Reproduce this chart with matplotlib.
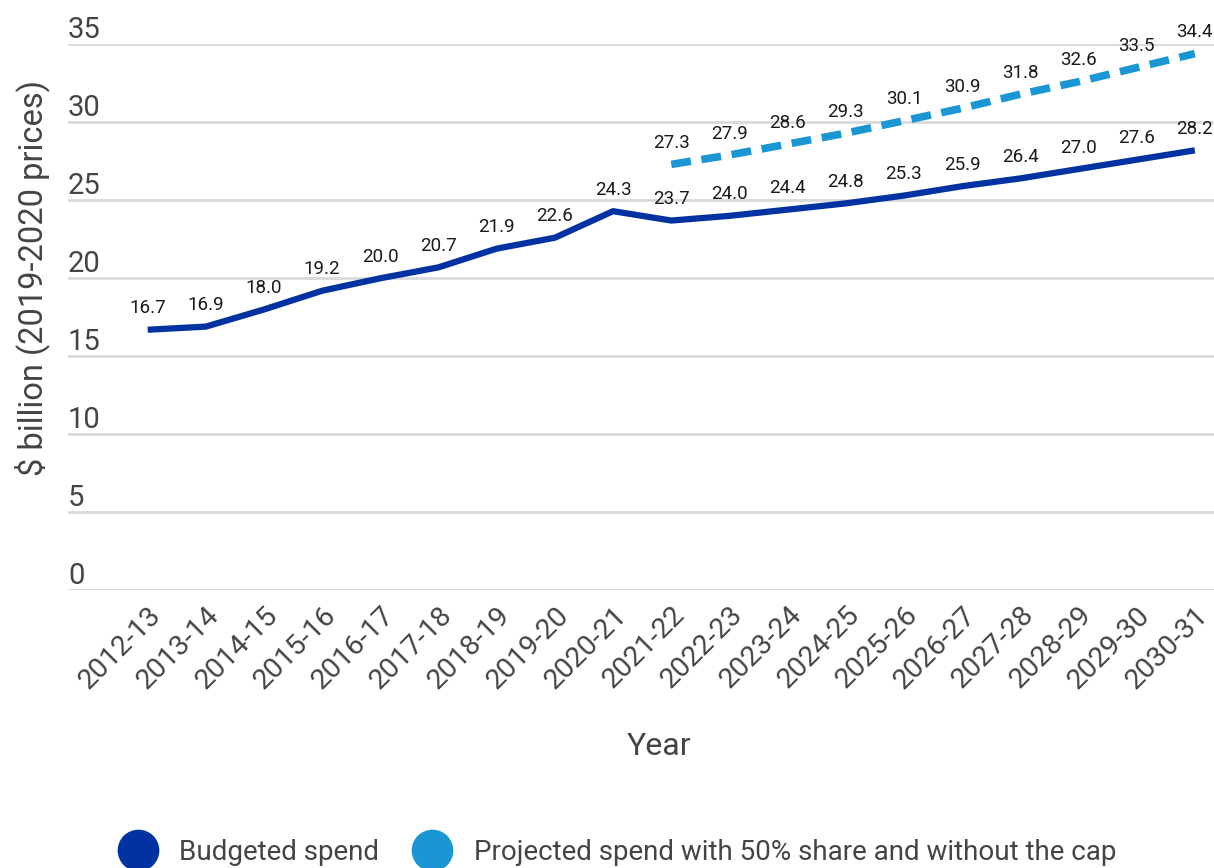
import numpy as np
import matplotlib.pyplot as plt
from matplotlib.lines import Line2D

plt.rcParams['font.family'] = ['Roboto', 'DejaVu Sans']

years = ['2012-13', '2013-14', '2014-15', '2015-16', '2016-17', '2017-18', '2018-19',
         '2019-20', '2020-21', '2021-22', '2022-23', '2023-24', '2024-25', '2025-26',
         '2026-27', '2027-28', '2028-29', '2029-30', '2030-31']
budgeted = [16.7, 16.9, 18.0, 19.2, 20.0, 20.7, 21.9, 22.6, 24.3, 23.7,
            24.0, 24.4, 24.8, 25.3, 25.9, 26.4, 27.0, 27.6, 28.2]
proj_years = years[9:]
projected = [27.3, 27.9, 28.6, 29.3, 30.1, 30.9, 31.8, 32.6, 33.5, 34.4]

c_budget = '#0033a1'
c_proj = '#1996d3'
grey = '#444444'

fig = plt.figure(figsize=(12.14, 8.68), dpi=100)
ax = fig.add_axes([0.056, 0.320, 0.944, 0.629])

x = np.arange(len(years))
xp = np.array([years.index(y) for y in proj_years])

ax.plot(x, budgeted, color=c_budget, lw=4.5, solid_capstyle='butt', zorder=3)
ax.plot(xp, projected, color=c_proj, lw=5.5, ls=(0, (2.6, 1.4)), zorder=3)

for xi, v in zip(x, budgeted):
    ax.annotate(f'{v:.1f}', (xi, v), xytext=(0, 9), textcoords='offset points',
                ha='center', va='bottom', fontsize=13.5, color='#1a1a1a', annotation_clip=False)
for xi, v in zip(xp, projected):
    ax.annotate(f'{v:.1f}', (xi, v), xytext=(0, 9), textcoords='offset points',
                ha='center', va='bottom', fontsize=13.5, color='#1a1a1a', annotation_clip=False)

ax.set_xlim(-1.37, 18.33)
ax.set_ylim(0, 35)
ax.set_yticks(range(0, 36, 5))
ax.grid(axis='y', color='#d9d9d9', lw=2)
ax.set_axisbelow(True)
for s in ax.spines.values():
    s.set_visible(False)

ax.tick_params(axis='y', length=0, pad=0, labelsize=21, labelcolor=grey)
for lab in ax.get_yticklabels():
    lab.set_ha('left')
    lab.set_va('bottom')
ax.set_xticks(x)
ax.set_xticklabels(years, rotation=45, ha='right', rotation_mode='anchor')
ax.tick_params(axis='x', length=0, pad=8, labelsize=20.5, labelcolor=grey)

ax.set_ylabel('\\$ billion (2019-2020 prices)', fontsize=23.5, color=grey)
ax.yaxis.set_label_coords(-0.016, 0.571)
ax.set_xlabel('Year', fontsize=23, color=grey)
ax.xaxis.set_label_coords(0.516, -0.259)

handles = [Line2D([], [], ls='none', marker='o', ms=29, color=c_budget),
           Line2D([], [], ls='none', marker='o', ms=29, color=c_proj)]
fig.legend(handles, ['Budgeted spend', 'Projected spend with 50% share and without the cap'],
           loc='center', bbox_to_anchor=(0.505, 0.018), ncol=2, frameon=False,
           fontsize=20, labelcolor=grey, handletextpad=0.5, columnspacing=0.9)

fig.savefig('out.png', dpi=100)
